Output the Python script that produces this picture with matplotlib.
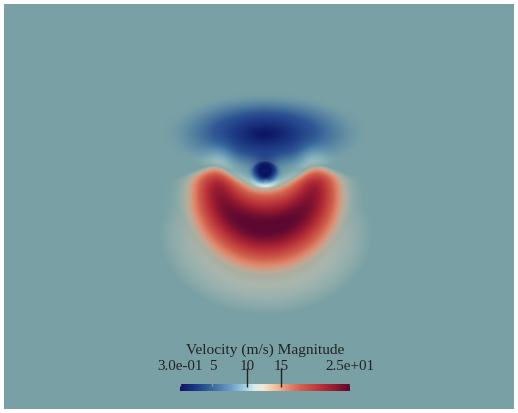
import numpy as np
import matplotlib
matplotlib.use("Agg")
import matplotlib.pyplot as plt
from matplotlib.colors import LinearSegmentedColormap, Normalize
from matplotlib.cm import ScalarMappable

# colour scale
vmin, vmax = 0.3, 25.0
cmap_pos = [0.0, 0.10, 0.19, 0.30, 0.39, 0.44, 0.486, 0.563, 0.623, 0.71, 0.83, 0.92, 1.0]
cmap_hex = ["#0b1662", "#1f3c86", "#3a6a9e", "#6a9ec4", "#a8d4e4", "#d6ecf0", "#f2ead8",
            "#f0c09a", "#e49478", "#d0604c", "#b83038", "#901830", "#5c0830"]
tick_vals = [0.3, 5, 10, 15, 25]
tick_labels = ["3.0e-01", "5", "10", "15", "2.5e+01"]
major_ticks = [10, 15]
bar_title = "Velocity (m/s) Magnitude"

# field model (image pixels)
v_far = 12.65
ring_center = (266, 178)
ring_radius, ring_width, ring_xstretch = 49, 34, 1.0
ring_taper, ring_amp = 0.36, 12.6
ring_spread, ring_cut = 3.0, 2.05     # angular fall-off, hard cut above the horns
lobe_center, lobe_core = (265, 134), (40, 18)
lobe_plateau = (265, 132, 120, 45)   # cx, cy, rx, ry
core_amp, plateau_amp = 4.6, 7.6
dot_center, dot_size, dot_amp = (265, 174), 12, 9.5
dome = (265, 134, 104, 43)      # upper halo
halo = (266, 235, 107, 80)      # lower halo
bg = "#79a0a4"

W, H = 518, 413
cmap = LinearSegmentedColormap.from_list("cw", list(zip(cmap_pos, cmap_hex)))
norm = Normalize(vmin, vmax)

fig = plt.figure(figsize=(W / 100, H / 100), dpi=100, facecolor="white")
ax = fig.add_axes([4 / W, 4 / H, (W - 8) / W, (H - 8) / H])
ax.set_facecolor(bg)
ax.set_xlim(4, W - 4)
ax.set_ylim(H - 4, 4)
ax.set_xticks([])
ax.set_yticks([])
for s in ax.spines.values():
    s.set_visible(False)

x = np.arange(4, W - 4) + 0.5
y = np.arange(4, H - 4) + 0.5
X, Y = np.meshgrid(x, y)

# red crescent, thinner towards the horns
rx = (X - ring_center[0]) / ring_xstretch
ry = Y - ring_center[1]
r = np.hypot(rx, ry)
theta = np.arctan2(rx, ry)
w = ring_width * (1 - ring_taper * (1 - np.cos(theta)))
g = np.exp(-(theta / ring_spread) ** 2 - (theta / ring_cut) ** 8)
red = ring_amp * np.exp(-((r - ring_radius) / w) ** 2) * g

# blue lobe (sharp core + flat plateau) and the dot under it
qc = ((X - lobe_center[0]) / lobe_core[0]) ** 2 + ((Y - lobe_center[1]) / lobe_core[1]) ** 2
qp = ((X - lobe_plateau[0]) / lobe_plateau[2]) ** 2 + ((Y - lobe_plateau[1]) / lobe_plateau[3]) ** 2
blue = core_amp * np.exp(-qc ** 0.8) + plateau_amp * np.exp(-qp ** 3)
dot = dot_amp * np.exp(-((X - dot_center[0]) ** 2 + (Y - dot_center[1]) ** 2) / dot_size ** 2)

v = np.clip(v_far + red - blue - dot, vmin, vmax)

qd = ((X - dome[0]) / dome[2]) ** 2 + ((Y - dome[1]) / dome[3]) ** 2
qh = ((X - halo[0]) / halo[2]) ** 2 + ((Y - halo[1]) / halo[3]) ** 2
a_dome = np.clip(1.5 * np.clip(1 - qd, 0, 1) ** 1.5, 0, 1)
a_dot = np.clip(dot / (0.4 * dot_amp), 0, 1)
a_red = np.clip((v - v_far) / 3.5, 0, 1)
a_halo = 0.42 * np.clip((1 - qh) / 0.6, 0, 1)
alpha = np.maximum.reduce([a_dome, a_dot, a_red, a_halo])

rgba = cmap(norm(v))
rgba[..., 3] = alpha
ax.imshow(rgba, extent=(4, W - 4, H - 4, 4), interpolation="bilinear")

# colour bar
cax = fig.add_axes([180 / W, (H - 391) / H, 170 / W, 7 / H])
cb = fig.colorbar(ScalarMappable(norm=norm, cmap=cmap), cax=cax, orientation="horizontal")
cb.outline.set_visible(False)
cax.set_xticks([])
tr = cax.get_xaxis_transform()
for val, lab in zip(tick_vals, tick_labels):
    if val in major_ticks:
        cax.vlines(val, 0.57, 3.3, transform=tr, color="#222222", lw=1.0, clip_on=False)
    else:
        cax.vlines(val, 0.7, 2.0, transform=tr, color="#8a9a9c", lw=1.0, clip_on=False)
    cax.text(val, 3.0, lab, transform=tr, ha="center", va="baseline",
             fontsize=10.8, family="Liberation Serif", color="#222222")
fig.text(265 / W, (H - 354) / H, bar_title, ha="center", va="baseline",
         fontsize=11.1, family="Liberation Serif", color="#222222")

fig.savefig("out.png", dpi=100, facecolor="white")
